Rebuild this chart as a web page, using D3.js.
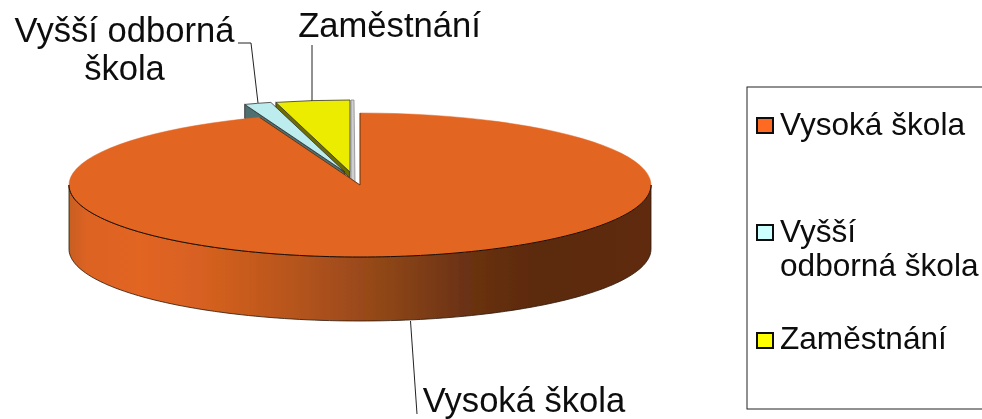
<!DOCTYPE html>
<html><head><meta charset="utf-8">
<script src="https://cdn.jsdelivr.net/npm/d3@7"></script>
<style>html,body{margin:0;padding:0;background:#fff}svg{display:block}text{font-family:"Liberation Sans",Arial,sans-serif;fill:#0a0a0a}</style>
</head><body><svg id="c" width="982" height="419"></svg>
<script>
const categories = ["Vysoká škola", "Vyšší odborná škola", "Zaměstnání"];
const values = [94.4, 1.5, 4.1];
const topColors = ["#e26522", "#bcecee", "#ecec00"];
const sideColors = ["#a0481a", "#50706f", "#6e6e00"];
const legendColors = ["#ff6a20", "#ccffff", "#ffff00"];
const legendLines = [["Vysoká škola"], ["Vyšší", "odborná škola"], ["Zaměstnání"]];

const rx = 291, ry = 72, depth = 64;
const centers = [[360, 185], [345, 172], [350, 172]];
const svg = d3.select("#c");
const defs = svg.append("defs");
defs.append("filter").attr("id", "soft").append("feGaussianBlur").attr("stdDeviation", 0.45);
const grad = defs.append("linearGradient").attr("id", "wall").attr("gradientUnits", "userSpaceOnUse")
  .attr("x1", 69).attr("x2", 651).attr("y1", 0).attr("y2", 0);
[[0, "#c85e20"], [0.03, "#dc6320"], [0.12, "#e26522"], [0.22, "#d86120"], [0.32, "#c45a1e"], [0.46, "#a54e1b"], [0.56, "#8a4418"], [0.68, "#6b3212"], [0.8, "#5c2a0e"], [1, "#5e2c0e"]]
  .forEach(([o, c]) => grad.append("stop").attr("offset", o).attr("stop-color", c));

const slices = d3.pie().value(d => d).sort(null)(values);
const g = svg.append("g").attr("filter", "url(#soft)");
const proj = (c, a, d = 0) => [c[0] + rx * Math.sin(a), c[1] - ry * Math.cos(a) + d];
const line = d3.line();
const arcGen = d3.arc().innerRadius(0).outerRadius(rx);
const frontAngles = d3.range(0, 121).map(i => Math.PI / 2 + Math.PI * i / 120);

// Rim wall of the main slice (front half)
{
  const c = centers[0];
  const pts = frontAngles.map(a => proj(c, a)).concat(frontAngles.slice().reverse().map(a => proj(c, a, depth)));
  g.append("path").attr("d", line(pts) + "Z").attr("fill", "url(#wall)").attr("stroke", "#2a1608").attr("stroke-width", 0.8);
}
// Cut faces of the two small slices
[1, 2].forEach(i => {
  const c = centers[i], s = slices[i];
  const h = i === 1 ? 14 : 6;
  const pA = proj(c, s.startAngle);
  g.append("path").attr("d", line([c, pA, [pA[0], pA[1] + h], [c[0], c[1] + h]]) + "Z")
    .attr("fill", sideColors[i]).attr("stroke", "#222").attr("stroke-width", 0.8);
});
// Pale cut face at the right of the yellow slice
{
  const c = centers[2];
  const t = proj(c, slices[2].endAngle);
  g.append("path").attr("d", line([[t[0] + 1, t[1]], [t[0] + 4, t[1]], [t[0] + 5, c[1] + 11], [t[0] + 1, c[1] + 6]]) + "Z")
    .attr("fill", "#cfcfcf").attr("stroke", "#8a8a8a").attr("stroke-width", 0.8);
}
// Top faces
[1, 2, 0].forEach(i => {
  g.append("path")
    .attr("transform", `translate(${centers[i][0]},${centers[i][1]}) scale(1,${ry / rx})`)
    .attr("d", arcGen(slices[i]))
    .attr("fill", topColors[i])
    .attr("stroke", i === 0 ? "#e26522" : "#333")
    .attr("stroke-width", i === 0 ? 0.5 : 0.8).attr("vector-effect", "non-scaling-stroke");
});
// Dark front edge of the main top face and cut edges
g.append("path").attr("d", line(frontAngles.map(a => proj(centers[0], a)))).attr("fill", "none").attr("stroke", "#1a0d05").attr("stroke-width", 1);
{
  const c = centers[0];
  g.append("path").attr("d", line([proj(c, slices[0].endAngle), c, proj(c, slices[0].startAngle)])).attr("fill", "none").attr("stroke", "#4a2a10").attr("stroke-width", 0.8);
}

// Leader lines
const leaders = [
  [[410.5, 321], [417, 414]],
  [[238, 43], [251, 43], [258, 103]],
  [[312, 45], [312, 101]]
];
leaders.forEach(l => g.append("path").attr("d", line(l)).attr("fill", "none").attr("stroke", "#222").attr("stroke-width", 1));

// Data labels
const labelSize = 34.6;
const labels = [
  {x: 524, y: 411.5, lines: ["Vysoká škola"]},
  {x: 124.5, y: 42, lines: ["Vyšší odborná", "škola"]},
  {x: 389.5, y: 37, lines: ["Zaměstnání"]}
];
labels.forEach(d => d.lines.forEach((t, j) => g.append("text").attr("x", d.x).attr("y", d.y + j * 38)
  .attr("text-anchor", "middle").attr("font-size", labelSize).text(t)));

// Legend
const legendSize = 31.6;
g.append("rect").attr("x", 747).attr("y", 87).attr("width", 260).attr("height", 322).attr("fill", "#fff").attr("stroke", "#222").attr("stroke-width", 1);
const swatchY = [118, 225, 333];
const legendBase = [135, 242, 349];
categories.forEach((c, i) => {
  g.append("rect").attr("x", 757).attr("y", swatchY[i]).attr("width", 16).attr("height", 15)
    .attr("fill", legendColors[i]).attr("stroke", "#111").attr("stroke-width", 2);
  legendLines[i].forEach((t, j) => g.append("text").attr("x", 780).attr("y", legendBase[i] + j * 33.5)
    .attr("font-size", legendSize).text(t));
});
</script></body></html>
